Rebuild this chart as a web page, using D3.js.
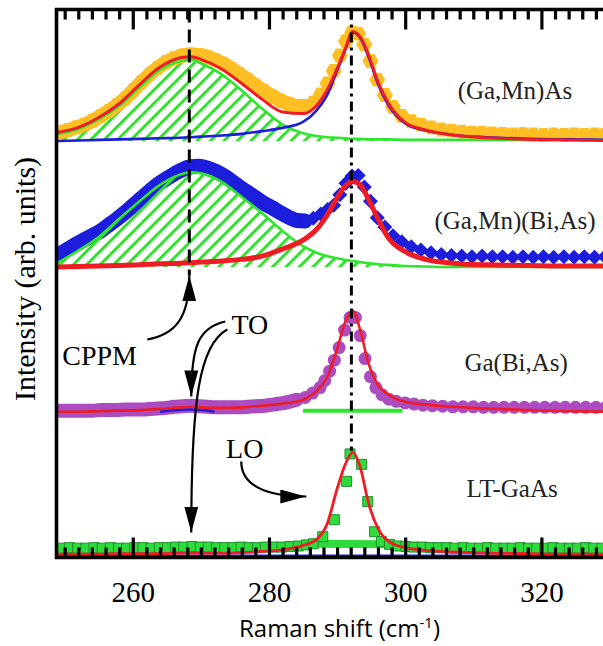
<!DOCTYPE html>
<html><head><meta charset="utf-8">
<script src="https://cdn.jsdelivr.net/npm/d3@7"></script>
<style>body{margin:0;background:#fff}svg{display:block}</style>
</head><body>
<svg id="chart" width="603" height="646"></svg>
<script>
// ---------- DATA ----------
const sampleNames = ["(Ga,Mn)As", "(Ga,Mn)(Bi,As)", "Ga(Bi,As)", "LT-GaAs"];
const baselineOffsets = [76.0, 53.0, 26.6, 0.3];   // vertical offset of each spectrum (arb. units)

// common Raman-shift grid of the fitted curves (cm^-1)
const fitX = [249,252,255,258,261,264,267,268.6,270,273,276,279,282,285,287,288.5,290,291.2,292.3,293.4,294.6,296,297.5,300,303,307,312,318,324,330];

// (Ga,Mn)As fits
const gmaTotalFit = [1.6,2.5,4.3,6.8,10.3,13.5,15.2,15.4,14.9,13.2,10.5,7.6,5.3,5.0,6.5,9.2,13.2,16.8,20.0,19.0,15.8,10.8,7.0,3.4,2.0,1.1,0.6,0.3,0.2,0.1];
const gmaLOFit    = [0.0,0.1,0.2,0.3,0.4,0.5,0.6,0.7,0.8,1.0,1.3,1.8,2.4,3.5,5.6,8.3,12.8,16.6,19.8,18.8,15.4,10.4,6.6,3.2,1.9,1.1,0.7,0.4,0.3,0.2];
const gmaCPPMFit  = [1.3,2.2,4.0,6.4,9.8,13.0,14.6,14.9,14.2,12.2,9.2,5.9,3.0,1.4,0.9,0.7,0.6,0.5,0.4,0.4,0.3,0.3,0.3,0.2,0.2,0.2,0.2,0.2,0.2,0.2];
// (Ga,Mn)(Bi,As) fits
const gmbaLOFit   = [0.0,0.1,0.2,0.3,0.4,0.6,0.7,0.8,0.9,1.1,1.4,2.0,3.3,4.9,6.9,9.4,12.6,14.8,15.6,15.0,12.4,8.8,5.4,2.8,1.4,0.7,0.4,0.3,0.2,0.2];
const gmbaCPPMFit = [0.8,3.0,5.5,8.8,12.0,15.0,16.9,17.3,17.1,15.6,12.8,9.8,6.6,3.8,2.6,2.0,1.6,1.3,1.1,0.9,0.7,0.5,0.4,0.2,0.1,0.0,0.0,0.0,0.0,0.0];
// Ga(Bi,As) fit
const gbaLOFit    = [0.0,0.0,0.1,0.2,0.3,0.5,0.8,0.9,0.8,0.7,0.8,1.1,1.5,2.2,3.8,6.2,11.4,16.4,18.4,14.9,8.9,4.9,3.2,1.8,1.3,0.9,0.6,0.3,0.1,0.0];
const gbaTOFitX   = [264,266,268.3,270.5,272];
const gbaTOFitY   = [0.0,0.25,0.4,0.25,0.0];
const gbaFlatX    = [285.0,299.6];
const gbaFlatY    = [0.2,0.2];
// LT-GaAs fit
const ltgLOFit    = [0.3,0.3,0.3,0.4,0.4,0.4,0.5,0.5,0.5,0.5,0.6,0.8,1.1,1.9,3.0,5.7,12.2,16.7,18.9,16.2,9.7,5.0,2.7,1.5,1.0,0.7,0.5,0.4,0.3,0.3];
const ltgBaseFit  = [0,0,0,0,0,0,0,0,0,0,0,0,0,0,0,0,0,0,0,0,0,0,0,0,0,0,0,0,0,0];

// measured points
const gmaDataX = [249.3,250.5,251.7,252.9,254.1,255.3,256.5,257.7,258.9,260.1,261.3,262.5,263.7,264.9,266.1,267.3,268.5,269.7,270.9,272.1,273.3,274.5,275.7,276.9,278.1,279.3,280.5,281.7,282.9,284.1,285.3,
  286.5,287.6,288.6,289.5,290.4,291.3,292.2,293.1,294.0,294.9,295.9,297.0,298.2,299.5,300.9,302.3,303.8,305.3,306.8,308.3,309.8,311.3,312.8,314.3,315.8,317.3,318.8,320.3,321.8,323.3,324.8,326.3,327.8,329.3];
const gmaDataY = [1.6,2.0,2.5,3.0,3.7,4.6,5.5,6.6,7.8,9.3,10.8,12.2,13.4,14.4,15.1,15.6,15.8,15.7,15.4,14.8,14.1,13.2,12.2,11.2,10.1,9.1,8.2,7.4,6.8,6.4,6.4,
  7.0,8.5,10.5,12.8,15.6,18.2,19.8,19.6,17.6,14.6,11.2,8.4,6.2,4.6,3.6,3.0,2.5,2.1,1.9,1.7,1.5,1.5,1.4,1.3,1.2,1.3,1.2,1.1,1.2,1.1,1.2,1.1,1.2,1.1];

const gmbaDataX = gmaDataX;
const gmbaDataY = [2.4,3.3,4.2,5.0,5.8,6.6,7.7,8.8,10.0,11.3,12.6,13.9,15.1,16.1,17.0,17.8,18.3,18.4,18.1,17.5,16.7,15.7,14.6,13.6,12.6,11.6,10.8,9.9,9.1,8.5,8.4,
  8.9,9.7,10.5,11.3,13.2,15.3,16.6,16.7,14.6,12.0,9.0,7.3,5.7,4.6,3.7,3.1,2.6,2.3,2.1,2.0,1.9,2.0,1.9,1.9,1.8,1.9,1.8,1.9,1.8,1.9,1.8,1.9,1.8,1.9];

const gbaDataX = [249.3,250.5,251.7,252.9,254.1,255.3,256.5,257.7,258.9,260.1,261.3,262.5,263.7,264.9,266.1,267.3,268.5,269.7,270.9,272.1,273.3,274.5,275.7,276.9,278.1,279.3,280.5,281.7,282.9,284.1,
  285.3,286.4,287.5,288.2,288.9,289.6,290.3,291.1,291.9,292.7,293.4,294.1,294.9,295.7,296.6,297.6,298.7,300.0,301.3,302.6,304.0,305.5,307.0,308.5,310.0,311.5,313.0,314.5,316.0,317.5,319.0,320.5,322.0,323.5,325.0,326.5,328.0,329.5];
const gbaDataY = [0.2,0.2,0.2,0.2,0.2,0.3,0.3,0.3,0.4,0.4,0.4,0.5,0.6,0.7,0.9,1.0,1.1,1.0,0.9,0.8,0.8,0.8,0.8,0.9,1.0,1.1,1.3,1.5,1.8,2.2,
  2.6,3.4,4.4,5.7,7.4,9.4,11.7,14.9,17.2,17.2,13.9,9.7,6.4,4.4,3.1,2.3,1.9,1.6,1.4,1.2,1.1,1.0,0.9,0.9,0.9,0.8,0.8,0.8,0.8,0.8,0.8,0.8,0.8,0.8,0.8,0.8,0.8,0.8];

const ltgDataX = [249.5,250.7,251.9,253.1,254.3,255.5,256.7,257.9,259.1,260.3,261.5,262.7,263.9,265.1,266.3,267.5,268.7,269.9,271.1,272.3,273.5,274.7,275.9,277.1,278.3,279.5,280.7,281.9,283.1,284.3,
  285.5,286.5,287.9,289.6,291.4,291.9,293.6,294.5,295.5,296.5,297.7,
  298.9,300.1,301.3,302.5,303.7,304.9,306.1,307.3,308.5,309.7,310.9,312.1,313.3,314.5,315.7,316.9,318.1,319.3,320.5,321.7,322.9,324.1,325.3,326.5,327.7,328.9];
const ltgDataY = [1.4,1.5,1.4,1.4,1.5,1.4,1.5,1.4,1.4,1.5,1.5,1.4,1.5,1.5,1.6,1.6,1.7,1.6,1.6,1.5,1.5,1.5,1.6,1.5,1.5,1.6,1.6,1.6,1.7,1.8,
  2.0,2.2,3.5,6.6,13.6,18.6,16.7,9.9,4.4,2.6,2.1,
  1.8,1.7,1.6,1.6,1.5,1.5,1.5,1.4,1.5,1.4,1.4,1.5,1.4,1.4,1.4,1.5,1.4,1.4,1.4,1.5,1.4,1.4,1.4,1.5,1.4,1.4];

// axis ticks
const majorTicks = [260, 280, 300, 320];
const minorTicks = d3.range(250, 331, 2).filter(v => !majorTicks.includes(v));
const cppmLine = 268.3, loLine = 292.1;

// annotation texts and arrows (data coordinates)
const annTexts = ["CPPM", "TO", "LO"];
const annTextX = [249.65, 274.5, 273.7];
const annTextY = [35.2, 40.7, 18.2];
const arrowCPPM = [[262.13,39.78],[266.09,40.69],[268.30,43.43],[268.30,51.46]];
const arrowTO1  = [[273.58,43.07],[269.77,41.97],[268.59,38.87],[268.59,29.38]];
const arrowTO2  = [[273.88,41.61],[269.77,38.87],[268.59,28.83],[268.59,4.56]];
const arrowLO   = [[275.93,17.52],[275.93,13.32],[279.31,11.13],[285.48,11.13]];
const sampleLabelX = [307.7, 304.3, 308.7, 309.0];
const sampleLabelY = [83.6, 59.9, 34.1, 11.0];

// ---------- CHART ----------
const svg = d3.select("#chart");
const W = 603, H = 646;
const pL = 56.5, pT = 9.5, pB = 557.5;
const x = d3.scaleLinear().domain([248.8, 330]).range([pL, 609.5]);
const y = d3.scaleLinear().domain([0, 100]).range([pB, pT]);

const C = {red:"#ee1c24", blue:"#1d1ddc", green:"#2ee62e", hatch:"#33e02f", orange:"#fdbf24", purple:"#ad4cc0", sq:"#2edb3c"};
const serif = "'Liberation Serif','Times New Roman',serif";

const defs = svg.append("defs");
defs.append("clipPath").attr("id","plotclip").append("rect")
  .attr("x", pL).attr("y", pT).attr("width", W - pL + 10).attr("height", pB - pT);
const pat = defs.append("pattern").attr("id","hatch").attr("patternUnits","userSpaceOnUse")
  .attr("width", 9.5).attr("height", 9.5).attr("patternTransform","rotate(45)");
pat.append("line").attr("x1",1.5).attr("y1",0).attr("x2",1.5).attr("y2",9.5)
  .attr("stroke", C.hatch).attr("stroke-width", 3);
defs.append("marker").attr("id","arrowhead").attr("markerUnits","userSpaceOnUse")
  .attr("viewBox","0 0 26 14").attr("markerWidth",26).attr("markerHeight",14)
  .attr("refX",26).attr("refY",7).attr("orient","auto")
  .append("path").attr("d","M0,0 L26,7 L0,14 Z").attr("fill","#000");

const plot = svg.append("g").attr("clip-path","url(#plotclip)");

function pts(xs, ys, off){ return xs.map((v,i)=>[v, ys[i] + off]); }
const smooth = d3.line().x(d=>x(d[0])).y(d=>y(d[1])).curve(d3.curveMonotoneX);

function fitLine(xs, ys, off, color, w){
  plot.append("path").attr("d", smooth(pts(xs, ys, off))).attr("fill","none")
    .attr("stroke", color).attr("stroke-width", w).attr("stroke-linejoin","round");
}
function hatchArea(xs, ys, off){
  const area = d3.area().x(d=>x(d[0])).y0(y(off)).y1(d=>y(d[1])).curve(d3.curveMonotoneX);
  plot.append("path").attr("d", area(pts(xs, ys, off))).attr("fill","url(#hatch)");
}
function band(xs, ys, off, color, w, keep){
  const p = pts(xs, ys, off).filter((d,i)=>keep(xs[i], ys[i]));
  plot.append("path").attr("d", smooth(p)).attr("fill","none").attr("stroke", color)
    .attr("stroke-width", w).attr("stroke-linejoin","round").attr("stroke-linecap","round");
}
const hexPath = (r)=> d3.line()(d3.range(6).map(k=>[r*Math.cos(k*Math.PI/3), r*Math.sin(k*Math.PI/3)])) + "Z";
function markers(xs, ys, off, shape, color, stroke){
  plot.append("g").selectAll("path").data(pts(xs, ys, off)).join("path")
    .attr("transform", d=>`translate(${x(d[0])},${y(d[1])})`)
    .attr("d", shape).attr("fill", color).attr("stroke", stroke || "none").attr("stroke-width", 1);
}

// Panel 1: (Ga,Mn)As
let o = baselineOffsets[0];
hatchArea(fitX, gmaCPPMFit, o);
band(gmaDataX, gmaDataY, o, C.orange, 14, (xv)=>xv < 286);
markers(gmaDataX, gmaDataY, o, hexPath(8), C.orange);
fitLine(fitX, gmaCPPMFit, o, C.green, 2.6);
fitLine(fitX, gmaLOFit, o, C.blue, 2.6);
fitLine(fitX, gmaTotalFit, o, C.red, 3);

// Panel 2: (Ga,Mn)(Bi,As)
o = baselineOffsets[1];
band(gmbaDataX, gmbaDataY, o, C.blue, 15, (xv)=>xv < 286);
markers(gmbaDataX, gmbaDataY, o, "M0,-7.5L7.5,0L0,7.5L-7.5,0Z", C.blue);
hatchArea(fitX, gmbaCPPMFit, o);
fitLine(fitX, gmbaCPPMFit, o, C.green, 2.6);
fitLine(fitX, gmbaLOFit, o, C.red, 5);

// Panel 3: Ga(Bi,As)
o = baselineOffsets[2];
band(gbaDataX, gbaDataY, o, C.purple, 14, (xv)=>xv < 285);
markers(gbaDataX, gbaDataY, o, d3.symbol(d3.symbolCircle, Math.PI*6.5*6.5)(), C.purple);
fitLine(gbaTOFitX, gbaTOFitY, o, C.blue, 2.5);
fitLine(gbaFlatX, gbaFlatY, o, C.green, 4);
fitLine(fitX, gbaLOFit, o, C.red, 2.6);

// Panel 4: LT-GaAs
o = baselineOffsets[3];
band(ltgDataX, ltgDataY, o, C.sq, 8, (xv,yv)=>yv < 2.3);
markers(ltgDataX, ltgDataY, o, "M-5,-5H5V5H-5Z", C.sq, "#1f8f2c");
fitLine(fitX, ltgBaseFit, o, C.blue, 2.5);
fitLine(fitX, ltgLOFit, o, C.red, 2.8);

// reference lines
svg.append("line").attr("x1", x(cppmLine)).attr("x2", x(cppmLine)).attr("y1", pT).attr("y2", y(arrowCPPM[3][1]))
  .attr("stroke","#000").attr("stroke-width",3).attr("stroke-dasharray","13,7");
svg.append("line").attr("x1", x(loLine)).attr("x2", x(loLine)).attr("y1", pT).attr("y2", y(19.5))
  .attr("stroke","#000").attr("stroke-width",3).attr("stroke-dasharray","10,5,3,5");

// axes (ticks inside, top and bottom)
function tickAxis(axis, vals, size, ty){
  const g = svg.append("g").attr("transform",`translate(0,${ty})`)
    .call(axis(x).tickValues(vals).tickSizeInner(-size).tickSizeOuter(0).tickFormat(""));
  g.select(".domain").remove();
  g.selectAll("line").attr("stroke","#000").attr("stroke-width",3.2);
  return g;
}
tickAxis(d3.axisBottom, minorTicks, 10, pB);
tickAxis(d3.axisBottom, majorTicks, 20, pB);
tickAxis(d3.axisTop, minorTicks, 10, pT);
tickAxis(d3.axisTop, majorTicks, 20, pT);
const lab = svg.append("g").attr("transform",`translate(0,${pB})`)
  .call(d3.axisBottom(x).tickValues(majorTicks).tickSize(0).tickPadding(24).tickFormat(d3.format("d")));
lab.select(".domain").remove();
lab.selectAll("text").attr("font-family", serif).attr("font-size", 29).attr("fill","#000");

// frame
svg.append("path").attr("d",`M${W+5},${pT}H${pL}V${pB}H${W+5}`)
  .attr("fill","none").attr("stroke","#000").attr("stroke-width",3.6);

// arrows
const bez = (p)=>{ const q=p.map(d=>[x(d[0]),y(d[1])]); return `M${q[0]}C${q[1]} ${q[2]} ${q[3]}`; };
[arrowCPPM, arrowTO1, arrowTO2, arrowLO].forEach(a=>{
  svg.append("path").attr("d", bez(a)).attr("fill","none").attr("stroke","#000")
    .attr("stroke-width",2.2).attr("marker-end","url(#arrowhead)");
});

// annotation text
annTexts.forEach((t,i)=>{
  svg.append("text").attr("x", x(annTextX[i])).attr("y", y(annTextY[i]))
    .attr("font-family", serif).attr("font-size", 28).attr("fill","#000").text(t);
});
sampleNames.forEach((t,i)=>{
  svg.append("text").attr("x", x(sampleLabelX[i])).attr("y", y(sampleLabelY[i]))
    .attr("font-family", serif).attr("font-size", 25).attr("fill","#222").text(t);
});

// axis titles
svg.append("text").attr("transform","translate(35,279) rotate(-90)").attr("text-anchor","middle")
  .attr("font-family", serif).attr("font-size", 30).attr("fill","#000").text("Intensity (arb. units)");
const xt = svg.append("text").attr("x", 339.5).attr("y", 637).attr("text-anchor","middle")
  .attr("font-family","'Open Sans','Noto Sans',sans-serif").attr("font-size", 24).attr("fill","#000");
xt.append("tspan").text("Raman shift (cm");
xt.append("tspan").attr("dy",-9).attr("font-size",15).text("-1");
xt.append("tspan").attr("dy",9).text(")");
</script>
</body></html>
